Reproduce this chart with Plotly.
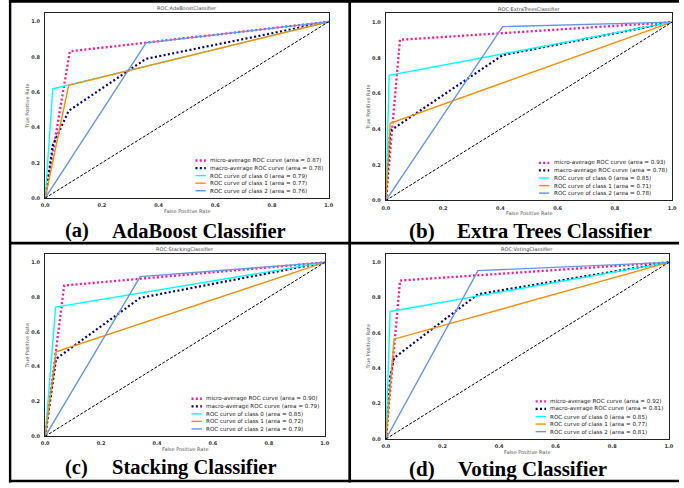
import plotly.graph_objects as go

W, H = 684, 488

# ---------------- data ----------------
model_names = ["AdaBoostClassifier", "ExtraTreesClassifier", "StackingClassifier", "VotingClassifier"]
caption_tags = ["(a)", "(b)", "(c)", "(d)"]
caption_names = ["AdaBoost Classifier", "Extra Trees Classifier", "Stacking Classifier", "Voting Classifier"]

micro_fpr = [[0, 0.087, 1], [0, 0.049, 1], [0, 0.068, 1], [0, 0.050, 1]]
micro_tpr = [[0, 0.832, 1], [0, 0.901, 1], [0, 0.867, 1], [0, 0.897, 1]]

macro_fpr = [[0, 0.027, 0.083, 0.356, 1], [0, 0.0115, 0.015, 0.408, 1],
             [0, 0.0375, 0.039, 0.340, 1], [0, 0.015, 0.029, 0.3255, 1]]
macro_tpr = [[0, 0.300, 0.495, 0.790, 1], [0, 0.354, 0.391, 0.815, 1],
             [0, 0.437, 0.445, 0.796, 1], [0, 0.353, 0.459, 0.820, 1]]

class0_fpr = [[0, 0.027, 1], [0, 0.0115, 1], [0, 0.0375, 1], [0, 0.015, 1]]
class0_tpr = [[0, 0.620, 1], [0, 0.702, 1], [0, 0.743, 1], [0, 0.722, 1]]
class1_fpr = [[0, 0.083, 1], [0, 0.015, 1], [0, 0.039, 1], [0, 0.029, 1]]
class1_tpr = [[0, 0.639, 1], [0, 0.433, 1], [0, 0.486, 1], [0, 0.565, 1]]
class2_fpr = [[0, 0.356, 1], [0, 0.408, 1], [0, 0.340, 1], [0, 0.3255, 1]]
class2_tpr = [[0, 0.880, 1], [0, 0.975, 1], [0, 0.918, 1], [0, 0.953, 1]]

auc_micro = [0.87, 0.93, 0.90, 0.92]
auc_macro = [0.78, 0.78, 0.79, 0.81]
auc_class0 = [0.79, 0.85, 0.85, 0.85]
auc_class1 = [0.77, 0.71, 0.72, 0.77]
auc_class2 = [0.76, 0.78, 0.79, 0.81]

tick_vals = [0, 0.2, 0.4, 0.6, 0.8, 1.0]
tick_text = ["0.0", "0.2", "0.4", "0.6", "0.8", "1.0"]

# ---------------- layout geometry (pixels) ----------------
boxes = [(41.7, 329.0, 13.0, 199.3), (387.0, 677.0, 13.3, 201.7),
         (41.7, 325.0, 255.25, 439.0), (387.0, 673.7, 255.1, 441.7)]
tag_x = [60, 408, 60, 408]
name_x = [107, 457, 107, 458]
cap_y = [232, 232, 470, 472]
cap_size = [20.5, 21, 20.5, 21]


def px(x):
    return x / W


def py(y):
    return 1 - y / H


styles = [
    dict(color="#FF1493", width=2.3, dash="2px,2.3px"),   # micro
    dict(color="#000080", width=2.2, dash="2px,2.4px"),   # macro
    dict(color="#00FFFF", width=1.4),                     # class 0
    dict(color="#FF8C00", width=1.4),                     # class 1
    dict(color="#6495ED", width=1.4),                     # class 2
]

fig = go.Figure()
annotations = []
shapes = []
layout_axes = {}

for i in range(4):
    xa = "x" if i == 0 else f"x{i+1}"
    ya = "y" if i == 0 else f"y{i+1}"
    l, r, t, b = boxes[i]
    series = [
        (micro_fpr[i], micro_tpr[i], f"micro-average ROC curve (area = {auc_micro[i]:.2f})"),
        (macro_fpr[i], macro_tpr[i], f"macro-average ROC curve (area = {auc_macro[i]:.2f})"),
        (class0_fpr[i], class0_tpr[i], f"ROC curve of class 0 (area = {auc_class0[i]:.2f})"),
        (class1_fpr[i], class1_tpr[i], f"ROC curve of class 1 (area = {auc_class1[i]:.2f})"),
        (class2_fpr[i], class2_tpr[i], f"ROC curve of class 2 (area = {auc_class2[i]:.2f})"),
    ]
    for (fx, ty, name), st in zip(series, styles):
        fig.add_trace(go.Scatter(x=fx, y=ty, mode="lines", line=st, name=name,
                                 showlegend=False, xaxis=xa, yaxis=ya, hoverinfo="skip"))
    fig.add_trace(go.Scatter(x=[0, 1], y=[0, 1], mode="lines",
                             line=dict(color="black", width=1, dash="3px,1.6px"),
                             showlegend=False, xaxis=xa, yaxis=ya, hoverinfo="skip"))

    axcommon = dict(showgrid=False, zeroline=False, showline=True, mirror=True,
                    linecolor="#222", linewidth=1.2, ticks="", tickvals=tick_vals,
                    ticktext=tick_text, tickfont=dict(family="DejaVu Sans", size=5,
                                                      color="#333", weight="bold"),
                    fixedrange=True)
    xkey = "xaxis" if i == 0 else f"xaxis{i+1}"
    ykey = "yaxis" if i == 0 else f"yaxis{i+1}"
    layout_axes[xkey] = dict(axcommon, domain=[px(l), px(r)], range=[0, 1], anchor=ya,
                             ticklabelstandoff=2)
    layout_axes[ykey] = dict(axcommon, domain=[py(b), py(t)], range=[0, 1.05], anchor=xa,
                             ticklabelstandoff=3)

    # subplot title and axis titles
    annotations.append(dict(text="ROC:" + model_names[i], x=px((l + r) / 2), y=py(t - 4.5),
                            xref="paper", yref="paper", showarrow=False, xanchor="center",
                            yanchor="middle", font=dict(family="DejaVu Sans", size=5, color="#444")))
    annotations.append(dict(text="False Positive Rate", x=px((l + r) / 2), y=py(b + 13),
                            xref="paper", yref="paper", showarrow=False, xanchor="center",
                            yanchor="middle", font=dict(family="DejaVu Sans", size=5, color="#555")))
    annotations.append(dict(text="True Positive Rate", x=px(l - 18), y=py((t + b) / 2),
                            xref="paper", yref="paper", showarrow=False, xanchor="center",
                            yanchor="middle", textangle=-90,
                            font=dict(family="DejaVu Sans", size=5, color="#555")))

    # legend (lower right inside axes)
    text_left = r - 120
    for k, ((fx, ty, name), st) in enumerate(zip(series, styles)):
        yrow = b - 7.4 - (4 - k) * 7.6
        shapes.append(dict(type="line", xref="paper", yref="paper",
                           x0=px(text_left - 15), x1=px(text_left - 4.5),
                           y0=py(yrow), y1=py(yrow),
                           line=dict(color=st["color"], width=st["width"],
                                     dash=st.get("dash", "solid"))))
        annotations.append(dict(text=name, x=px(text_left - 2), y=py(yrow), xref="paper",
                                yref="paper", showarrow=False, xanchor="left", yanchor="middle",
                                font=dict(family="DejaVu Sans", size=5.6, color="#1a1a1a")))

    # captions
    annotations.append(dict(text=f"<b>{caption_tags[i]}</b>", x=px(tag_x[i]), y=py(cap_y[i]),
                            xref="paper", yref="paper", showarrow=False, xanchor="left",
                            yanchor="middle",
                            font=dict(family="Liberation Serif", size=cap_size[i], color="black")))
    annotations.append(dict(text=f"<b>{caption_names[i]}</b>", x=px(name_x[i]), y=py(cap_y[i]),
                            xref="paper", yref="paper", showarrow=False, xanchor="left",
                            yanchor="middle",
                            font=dict(family="Liberation Serif", size=cap_size[i], color="black")))

# outer frame and dividers
border = dict(color="black", width=2.7)
shapes += [
    dict(type="line", xref="paper", yref="paper", x0=px(5), x1=1, y0=py(1.3), y1=py(1.3), line=border),
    dict(type="line", xref="paper", yref="paper", x0=px(6.2), x1=px(6.2), y0=py(0), y1=py(485.5), line=dict(color="black", width=2.4)),
    dict(type="line", xref="paper", yref="paper", x0=px(350.3), x1=px(350.3), y0=py(0), y1=py(485.5), line=border),
    dict(type="line", xref="paper", yref="paper", x0=px(5), x1=1, y0=py(244.7), y1=py(244.7), line=border),
    dict(type="line", xref="paper", yref="paper", x0=px(5), x1=1, y0=py(484), y1=py(484), line=border),
]

fig.update_layout(width=W, height=H, margin=dict(l=0, r=0, t=0, b=0),
                  paper_bgcolor="white", plot_bgcolor="white",
                  showlegend=False, annotations=annotations, shapes=shapes, **layout_axes)

fig.write_html("out.html", config={"displayModeBar": False},
               post_script="document.body.style.margin='0';document.body.style.overflow='hidden';")
